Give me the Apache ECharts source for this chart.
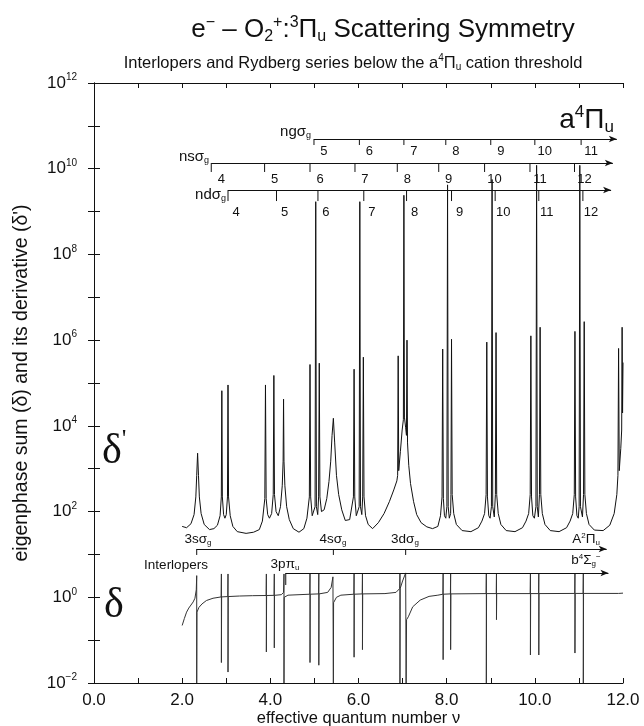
<!DOCTYPE html>
<html>
<head>
<meta charset="utf-8">
<title>e- O2+ scattering symmetry</title>
<script src="https://cdn.jsdelivr.net/npm/echarts@6/dist/echarts.min.js"></script>
<style>
  html, body { margin: 0; padding: 0; background: #fff; }
  #chart { width: 644px; height: 726px; }
</style>
</head>
<body>
<div id="chart"></div>
<script>
// derivative of the eigenphase sum
const dPrime = [
  [2.00, 45], [2.10, 42], [2.20, 52], [2.27, 85], [2.31, 220], [2.33, 700], [2.35, 2300], [2.37, 700], [2.39, 220], [2.43, 90],
  [2.50, 50], [2.62, 38], [2.72, 40], [2.80, 48], [2.86, 80], [2.888, 220], [2.90, 66000], [2.912, 220], [2.94, 85], [2.97, 70],
  [3.00, 85], [3.028, 220], [3.04, 90000], [3.052, 220], [3.09, 80], [3.15, 45], [3.25, 34], [3.45, 31], [3.62, 33], [3.75, 38],
  [3.82, 60], [3.875, 200], [3.89, 90000], [3.905, 200], [3.94, 85], [3.98, 70], [4.03, 90], [4.066, 250], [4.08, 150000], [4.094, 250],
  [4.13, 100], [4.18, 80], [4.23, 130], [4.27, 400], [4.29, 1500], [4.30, 42000], [4.31, 1500], [4.33, 400], [4.37, 130], [4.43, 65],
  [4.52, 40], [4.65, 33], [4.76, 40], [4.83, 70], [4.885, 220], [4.90, 270000], [4.915, 220], [4.95, 80], [4.985, 75], [5.015, 130],
  [5.03, 1.7e9], [5.045, 130], [5.075, 85], [5.095, 220], [5.11, 290000], [5.125, 220], [5.16, 100], [5.22, 110], [5.28, 200], [5.33, 500],
  [5.37, 1500], [5.40, 6000], [5.43, 15000], [5.46, 4000], [5.50, 700], [5.55, 250], [5.62, 110], [5.70, 62], [5.80, 65], [5.885, 220],
  [5.90, 210000], [5.915, 220], [5.95, 80], [5.985, 75], [6.015, 130], [6.03, 1.7e9], [6.045, 130], [6.075, 85], [6.095, 220], [6.11, 400000],
  [6.125, 220], [6.16, 80], [6.22, 50], [6.32, 40], [6.45, 55], [6.58, 90], [6.70, 170], [6.80, 320], [6.87, 520], [6.888, 700],
  [6.90, 430000], [6.912, 900], [6.95, 2500], [6.99, 8000], [7.018, 14000], [7.03, 2.4e9], [7.042, 16000], [7.07, 9000], [7.088, 6000], [7.10, 1000000],
  [7.112, 4000], [7.14, 1200], [7.18, 450], [7.25, 170], [7.32, 85], [7.42, 55], [7.55, 44], [7.68, 40], [7.80, 45], [7.86, 80],
  [7.895, 220], [7.91, 620000], [7.925, 200], [7.95, 80], [7.98, 70], [8.005, 130], [8.02, 4.2e9], [8.035, 130], [8.06, 70], [8.09, 90],
  [8.097, 250], [8.11, 1050000], [8.125, 250], [8.16, 90], [8.22, 50], [8.35, 36], [8.55, 34], [8.72, 42], [8.80, 60], [8.86, 90],
  [8.895, 250], [8.91, 900000], [8.925, 220], [8.955, 80], [8.985, 70], [9.015, 130], [9.03, 5.6e9], [9.045, 130], [9.08, 75], [9.105, 250],
  [9.12, 1500000], [9.135, 250], [9.17, 90], [9.23, 50], [9.35, 36], [9.55, 34], [9.72, 42], [9.80, 60], [9.86, 90], [9.895, 250],
  [9.91, 1260000], [9.925, 220], [9.955, 80], [9.99, 70], [10.025, 130], [10.04, 1.2e10], [10.055, 130], [10.08, 75], [10.105, 250], [10.12, 2000000],
  [10.135, 250], [10.17, 90], [10.23, 50], [10.35, 36], [10.55, 34], [10.72, 42], [10.80, 60], [10.86, 90], [10.895, 250], [10.91, 1600000],
  [10.925, 220], [10.955, 80], [10.985, 70], [11.005, 130], [11.02, 1.2e10], [11.035, 130], [11.08, 75], [11.105, 250], [11.12, 2700000], [11.135, 250],
  [11.17, 90], [11.23, 50], [11.35, 37], [11.55, 36], [11.70, 48], [11.80, 90], [11.86, 250], [11.885, 700], [11.90, 640000], [11.915, 900],
  [11.95, 3000], [11.97, 8000], [11.98, 2000000], [11.99, 20000], [12.00, 300000]
]

// eigenphase sum
const delta = [
  [2.00, 0.22], [2.05, 0.32], [2.10, 0.45], [2.15, 0.56], [2.20, 0.66], [2.25, 0.78], [2.29, 0.95], [2.32, 1.5],
  [2.33, 3.2], [2.33, 0.01], [2.335, 0.45], [2.38, 0.58], [2.45, 0.7], [2.55, 0.84], [2.70, 0.95],
  [2.885, 1.02], [2.89, 3.5], [2.89, 0.03], [2.895, 1.02],
  [3.035, 1.04], [3.04, 3.5], [3.04, 0.018], [3.045, 1.04],
  [3.30, 1.07], [3.60, 1.09],
  [3.905, 1.1], [3.91, 3.5], [3.91, 0.053], [3.915, 1.1],
  [4.085, 1.11], [4.09, 3.5], [4.09, 0.066], [4.095, 1.11],
  [4.25, 1.15], [4.30, 1.3], [4.31, 3.5], [4.31, 0.01], [4.315, 1.0], [4.40, 1.12],
  [4.895, 1.18], [4.90, 3.5], [4.90, 0.03], [4.905, 1.18],
  [5.095, 1.2], [5.10, 3.5], [5.10, 0.026], [5.105, 1.2],
  [5.30, 1.3], [5.38, 1.7], [5.42, 3.0], [5.43, 0.01], [5.435, 0.75], [5.50, 1.0], [5.60, 1.12],
  [5.895, 1.18], [5.90, 3.5], [5.90, 0.04], [5.905, 1.18],
  [6.085, 1.2], [6.09, 3.5], [6.09, 0.06], [6.095, 1.2],
  [6.60, 1.22], [6.85, 1.3], [6.935, 1.6], [6.94, 3.5], [6.94, 0.01], [6.945, 1.6], [7.00, 2.4], [7.07, 3.7], [7.08, 0.01],
  [7.09, 0.3], [7.13, 0.35], [7.23, 0.6], [7.40, 0.86], [7.60, 1.05], [7.80, 1.12],
  [7.915, 1.18], [7.92, 3.5], [7.92, 0.035], [7.925, 1.18],
  [8.085, 1.2], [8.09, 3.5], [8.09, 0.06], [8.095, 1.2],
  [8.895, 1.22], [8.90, 3.5], [8.90, 0.01], [8.905, 1.22],
  [9.125, 1.22], [9.13, 3.5], [9.13, 0.3], [9.135, 1.22],
  [9.895, 1.22], [9.90, 3.5], [9.90, 0.045], [9.905, 1.22],
  [10.085, 1.22], [10.09, 3.5], [10.09, 0.045], [10.095, 1.22],
  [10.905, 1.23], [10.91, 3.5], [10.91, 0.05], [10.915, 1.23],
  [11.095, 1.23], [11.10, 3.5], [11.10, 0.01], [11.105, 1.23],
  [11.90, 1.23], [12.00, 1.25]
]

// Rydberg ladders (effective quantum number of each member)
const ngNames = ['5', '6', '7', '8', '9', '10', '11']
const ngX = [4.99, 6.02, 7.03, 7.98, 9.0, 10.0, 11.05]
const nsNames = ['4', '5', '6', '7', '8', '9', '10', '11', '12']
const nsX = [2.66, 3.87, 4.9, 5.92, 6.88, 7.82, 8.86, 9.89, 10.9]
const ndNames = ['4', '5', '6', '7', '8', '9', '10', '11', '12']
const ndX = [3.04, 4.14, 5.08, 6.12, 7.09, 8.11, 9.1, 10.09, 11.09]
const lowNames = ['', '', '']
const lowX = [2.33, 5.43, 7.07]
const piX = [4.35]

const ink = '#111'
const sans = 'Liberation Sans'
const serif = 'Liberation Serif'

function ladder (xs, names, level, end, tick, dx, dy) {
  return {
    type: 'custom',
    silent: true,
    animation: false,
    encode: { x: 0, y: 1 },
    data: xs.map(x => [x, level]),
    renderItem: function (params, api) {
      const p = api.coord([api.value(0), api.value(1)])
      return {
        type: 'group',
        children: [
          { type: 'line', shape: { x1: p[0], y1: p[1], x2: p[0], y2: p[1] + tick }, style: { stroke: ink, lineWidth: 1 } },
          {
            type: 'text', x: p[0] + dx, y: p[1] + dy,
            style: { text: names[params.dataIndex], fill: ink, font: '13px "' + sans + '"', align: 'center', verticalAlign: 'middle' }
          }
        ]
      }
    },
    markLine: {
      silent: true,
      animation: false,
      symbol: ['none', 'arrow'],
      symbolSize: [5, 8],
      label: { show: false },
      lineStyle: { color: ink, width: 1, type: 'solid' },
      data: [[{ coord: [xs[0], level] }, { coord: [end, level] }]]
    }
  }
}

// text with sub/superscripts
function rt (x, y, text, size, align, family) {
  const fam = family || sans
  const small = Math.round(size * 0.62)
  return {
    type: 'text', x: x, y: y, silent: true,
    style: {
      text: text, fill: ink, align: align || 'center', verticalAlign: 'middle',
      font: size + 'px "' + fam + '"',
      rich: {
        t: { fontSize: size, fontFamily: fam, fill: ink },
        sub: { fontSize: small, fontFamily: fam, fill: ink, padding: [Math.round(size * 0.5), 0, 0, 0] },
        sup: { fontSize: small, fontFamily: fam, fill: ink, padding: [0, 0, Math.round(size * 0.55), 0] }
      }
    }
  }
}

const chart = echarts.init(document.getElementById('chart'))

const option = {
  backgroundColor: '#fff',
  animation: false,
  grid: { left: 94, right: 21, top: 83, bottom: 43, containLabel: false, outerBoundsMode: 'none' },
  xAxis: [
    {
      type: 'value', min: 0, max: 12, interval: 1,
      name: 'effective quantum number ν', nameLocation: 'middle', nameGap: 27, nameMoveOverlap: false,
      nameTextStyle: { fontFamily: sans, fontSize: 16.5, color: ink },
      axisLine: { show: true, lineStyle: { color: ink, width: 1 } },
      axisTick: { inside: true, length: 5, lineStyle: { color: ink } },
      axisLabel: {
        fontFamily: sans, fontSize: 17, color: ink, margin: 9,
        formatter: v => (v % 2 === 0 ? v.toFixed(1) : '')
      },
      splitLine: { show: false }
    },
    {
      type: 'value', position: 'top', min: 0, max: 12, interval: 1,
      axisLine: { show: true, lineStyle: { color: ink, width: 1 } },
      axisTick: { inside: true, length: 5, lineStyle: { color: ink } },
      axisLabel: { show: false },
      splitLine: { show: false }
    }
  ],
  yAxis: [
    {
      type: 'log', logBase: 10, min: 1e-2, max: 1e12, interval: 1,
      name: "eigenphase sum (δ) and its derivative (δ')", nameLocation: 'middle', nameGap: 62,
      nameTextStyle: { fontFamily: sans, fontSize: 19.5, color: ink },
      axisLine: { show: true, lineStyle: { color: ink, width: 1 } },
      axisTick: { inside: true, length: 6, lineStyle: { color: ink } },
      axisLabel: {
        margin: 17, color: ink,
        formatter: function (v) {
          const e = Math.round(Math.log10(v))
          if (e % 2 !== 0) return ''
          return '{b|10}{e|' + (e < 0 ? '−' + (-e) : e) + '}'
        },
        rich: {
          b: { fontFamily: sans, fontSize: 17, color: ink },
          e: { fontFamily: sans, fontSize: 10, color: ink, padding: [0, 0, 11, 0] }
        }
      },
      splitLine: { show: false }
    },
    {
      type: 'log', logBase: 10, min: 1e-2, max: 1e12, interval: 1, position: 'right',
      axisLine: { show: true, lineStyle: { color: ink, width: 1 } },
      axisTick: { inside: true, length: 6, lineStyle: { color: ink } },
      axisLabel: { show: false },
      splitLine: { show: false }
    }
  ],
  series: [
    {
      name: "δ'", type: 'line', data: dPrime, symbol: 'none', silent: true,
      lineStyle: { color: ink, width: 1 }
    },
    {
      name: 'δ', type: 'line', data: delta, symbol: 'none', silent: true,
      lineStyle: { color: '#333', width: 1 }
    },
    ladder(ngX, ngNames, 4.93e10, 11.86, 6, 10, 12),
    ladder(nsX, nsNames, 1.36e10, 11.77, 9, 10, 16),
    ladder(ndX, ndNames, 3.18e9, 11.73, 11, 8, 22),
    ladder(lowX, lowNames, 13.4, 11.63, 6, 0, 0),
    ladder(piX, [''], 3.69, 11.67, 12, 0, 0)
  ],
  graphic: [
    rt(383, 30, '{t|e}{sup|−}{t| – O}{sub|2}{sup|+}{t|:}{sup|3}{t|Π}{sub|u}{t| Scattering Symmetry}', 26),
    rt(353, 63, '{t|Interlopers and Rydberg series below the a}{sup|4}{t|Π}{sub|u}{t| cation threshold}', 16.5),
    rt(311, 132, '{t|ngσ}{sub|g}', 15, 'right'),
    rt(209, 157, '{t|nsσ}{sub|g}', 15, 'right'),
    rt(226, 195, '{t|ndσ}{sub|g}', 15, 'right'),
    rt(614, 120, '{t|a}{sup|4}{t|Π}{sub|u}', 28, 'right'),
    rt(198, 539, '{t|3sσ}{sub|g}', 13.5),
    rt(333, 539, '{t|4sσ}{sub|g}', 13.5),
    rt(405, 539, '{t|3dσ}{sub|g}', 13.5),
    rt(586, 539, '{t|A}{sup|2}{t|Π}{sub|u}', 13.5),
    rt(176, 565, '{t|Interlopers}', 13.5),
    rt(285, 564, '{t|3pπ}{sub|u}', 13.5),
    rt(586, 560, '{t|b}{sup|4}{t|Σ}{sub|g}{sup|−}', 13.5),
    rt(102, 452, "{t|δ}{sup|'}", 42, 'left', serif),
    rt(104, 606, '{t|δ}', 42, 'left', serif)
  ]
}

chart.setOption(option)
</script>
</body>
</html>
